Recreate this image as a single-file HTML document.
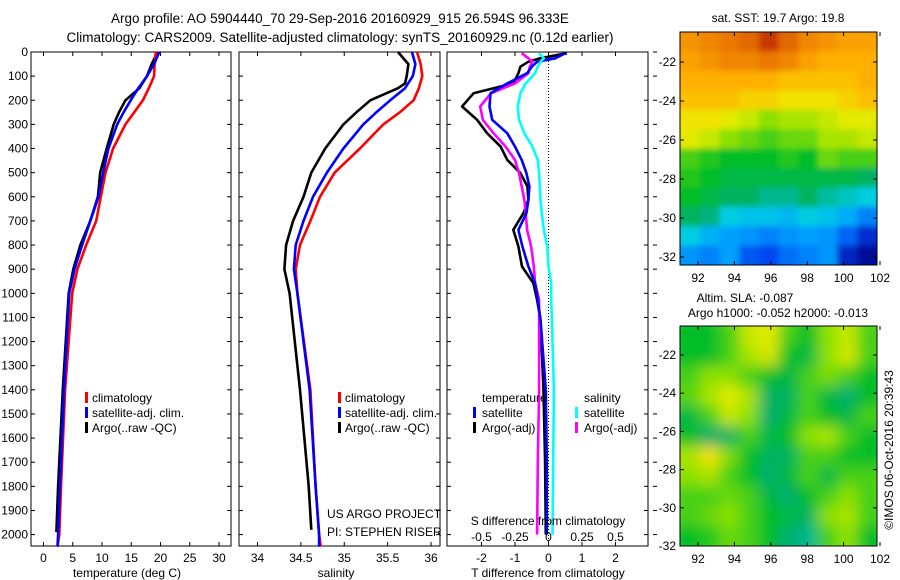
<!DOCTYPE html>
<html><head><meta charset="utf-8"><style>
html,body{margin:0;padding:0;background:#fff;width:900px;height:580px;overflow:hidden}
svg text{font-family:"Liberation Sans",sans-serif;font-size:12px;fill:#000}
</style></head><body>
<svg id="c" width="900" height="580" xmlns="http://www.w3.org/2000/svg">
<defs>
<filter id="bl" x="-5%" y="-5%" width="110%" height="110%"><feGaussianBlur stdDeviation="3"/></filter>
<filter id="bl2" x="-5%" y="-5%" width="110%" height="110%"><feGaussianBlur stdDeviation="7"/></filter>
<clipPath id="m1"><rect x="680" y="32" width="197" height="233"/></clipPath>
<clipPath id="m2"><rect x="680" y="326" width="197" height="220"/></clipPath>
</defs>
<text x="340" y="23" text-anchor="middle" style="font-size:13.5px">Argo profile: AO 5904440_70 29-Sep-2016 20160929_915 26.594S 96.333E</text>
<text x="340" y="42" text-anchor="middle" style="font-size:13.5px">Climatology: CARS2009. Satellite-adjusted climatology: synTS_20160929.nc (0.12d earlier)</text>
<g id="g"></g>
</svg>
<script>
// ---------- data ----------
const tDepth=[0,50,100,150,200,250,300,400,500,600,700,800,900,1000,1400,1800,2000,2050];
const tClim=[19.2,19.0,18.9,18.0,17.0,15.5,14.0,11.9,10.6,9.8,9.0,7.3,5.8,4.9,3.7,3.0,2.7,2.4];
const tSat=[19.8,18.9,17.7,16.2,14.9,13.7,12.6,11.1,10.2,9.4,8.0,6.6,5.3,4.4,3.5,2.8,2.5,2.4];
const argoDepth=[0,50,100,150,200,250,300,400,500,600,700,800,900,1000,1400,1800,1990];
const tArgo=[19.5,18.5,17.7,16.4,14.0,12.9,12.0,10.8,9.7,9.3,8.0,6.3,5.1,4.3,3.3,2.5,2.2];
const sDepth=[0,50,100,150,200,250,300,400,500,600,700,800,900,1000,1400,1800,2000,2050];
const sClim=[35.84,35.88,35.90,35.86,35.80,35.64,35.45,35.18,34.89,34.72,34.61,34.49,34.44,34.46,34.61,34.67,34.71,34.73];
const sSat=[35.78,35.82,35.79,35.70,35.53,35.37,35.22,34.99,34.80,34.64,34.53,34.44,34.42,34.46,34.60,34.67,34.71,34.71];
const sArgoDepth=[0,50,100,130,150,200,250,300,400,500,600,700,800,900,1000,1400,1800,1980];
const sArgo=[35.62,35.74,35.72,35.70,35.62,35.30,35.14,34.99,34.78,34.62,34.53,34.41,34.33,34.31,34.37,34.49,34.59,34.62];
const dDepth=[5,26,40,61,88,130,171,226,281,337,392,447,502,557,613,668,737,806,889,958,1027,1110,1400,1700,2000];
const dTArgo=[0.55,-0.25,-0.6,-0.84,-0.9,-1.05,-2.24,-2.58,-2.13,-1.83,-1.43,-1.23,-0.84,-0.63,-0.6,-0.75,-1.05,-0.9,-0.79,-0.45,-0.34,-0.24,-0.15,-0.1,-0.08];
const dTSat=[0.5,0.2,-0.34,-0.5,-0.64,-1.23,-1.73,-1.76,-1.68,-1.23,-1.0,-0.8,-0.66,-0.57,-0.6,-0.66,-0.9,-0.78,-0.6,-0.4,-0.32,-0.24,-0.08,-0.05,-0.05];
const dSSat=[-0.07,-0.035,-0.06,-0.08,-0.1,-0.17,-0.21,-0.23,-0.22,-0.18,-0.12,-0.08,-0.07,-0.065,-0.06,-0.05,-0.035,-0.01,0,0.02,0.02,0.025,0.04,0.035,0.03];
const dSArgo=[-0.2,-0.15,-0.12,-0.14,-0.15,-0.25,-0.43,-0.51,-0.49,-0.41,-0.32,-0.25,-0.22,-0.2,-0.18,-0.17,-0.16,-0.13,-0.11,-0.1,-0.07,-0.07,-0.07,-0.08,-0.085];
const depthTicks=[0,100,200,300,400,500,600,700,800,900,1000,1100,1200,1300,1400,1500,1600,1700,1800,1900,2000];
const tempTicks=[0,5,10,15,20,25,30];
const salTicks=[34,34.5,35,35.5,36];
const dTTicks=[-2,-1,0,1,2];
const dSTicks=[-0.5,-0.25,0,0.25,0.5];
const latTicks=[-22,-24,-26,-28,-30,-32];
const lonTicks=[92,94,96,98,100,102];
const sstGrid=[
[.76,.78,.80,.82,.88,.82,.78,.76,.74,.74],
[.74,.76,.78,.78,.80,.78,.74,.72,.72,.72],
[.72,.72,.72,.72,.72,.70,.70,.70,.70,.72],
[.70,.70,.70,.68,.68,.66,.66,.66,.68,.70],
[.66,.66,.64,.62,.58,.60,.60,.62,.64,.64],
[.64,.62,.58,.56,.54,.56,.56,.60,.60,.62],
[.54,.52,.50,.50,.50,.52,.50,.56,.54,.54],
[.52,.50,.48,.48,.48,.48,.48,.48,.48,.46],
[.50,.48,.46,.46,.43,.43,.46,.42,.40,.38],
[.46,.44,.38,.36,.36,.34,.38,.36,.32,.25],
[.38,.33,.30,.28,.25,.28,.30,.28,.20,.10],
[.28,.25,.30,.18,.15,.22,.25,.28,.08,.02]];
const slaGrid=[
[.50,.50,.54,.62,.64,.54,.50,.58,.62,.54],
[.50,.50,.54,.60,.63,.50,.48,.58,.63,.54],
[.54,.58,.58,.54,.50,.48,.54,.57,.54,.50],
[.55,.60,.64,.60,.46,.46,.54,.48,.45,.50],
[.48,.54,.62,.58,.45,.48,.54,.50,.48,.54],
[.50,.45,.46,.54,.48,.50,.58,.60,.54,.50],
[.60,.66,.57,.50,.46,.46,.54,.54,.50,.50],
[.58,.60,.54,.50,.45,.48,.54,.48,.54,.54],
[.54,.54,.56,.54,.48,.45,.50,.54,.58,.54],
[.54,.56,.58,.54,.50,.48,.46,.58,.60,.54],
[.50,.52,.56,.54,.50,.45,.43,.54,.58,.50]];
// ---------- helpers ----------
const NS="http://www.w3.org/2000/svg";const G=document.getElementById('g');
function el(t,a,p){const e=document.createElementNS(NS,t);for(const k in a)e.setAttribute(k,a[k]);(p||G).appendChild(e);return e;}
function txt(x,y,s,anchor,name){const e=el('text',{x:x,y:y,'text-anchor':anchor||'middle'});e.textContent=s;

return e;}
const Y=d=>52+d*0.2413;
const xT=v=>43.5+v*5.85;
const xS=v=>257.5+(v-34)*86.75;
const xDT=v=>548.5+v*33.5;
const xDS=v=>548.5+v*134;
function line(xs,ds,fx,col,name,w){const p=xs.map((v,i)=>fx(v).toFixed(1)+','+Y(ds[i]).toFixed(1)).join(' ');
const e=el('polyline',{points:p,fill:'none',stroke:col,'stroke-width':w||2.6,'stroke-linejoin':'round'});

}
function panel(x0,x1,name){const r=el('rect',{x:x0,y:52,width:x1-x0,height:494,fill:'none',stroke:'#000','stroke-width':1});


depthTicks.forEach(d=>{el('line',{x1:x0,x2:x0+4,y1:Y(d),y2:Y(d),stroke:'#000'});el('line',{x1:x1,x2:x1-4,y1:Y(d),y2:Y(d),stroke:'#000'});});}
function xticks(vals,fx,top){vals.forEach(v=>{const x=fx(v);el('line',{x1:x,x2:x,y1:546,y2:542,stroke:'#000'});if(top)el('line',{x1:x,x2:x,y1:52,y2:56,stroke:'#000'});});}
function legMark(x,y,col){el('rect',{x:x,y:y-10,width:3,height:11,fill:col});}
// ---------- panel 1 ----------
panel(31,231,'temperature-panel');xticks(tempTicks,xT,true);
depthTicks.forEach(d=>txt(28,Y(d)+4,String(d),'end','depth-tick-label'));
tempTicks.forEach(v=>txt(xT(v),562,String(v),'middle','temperature-tick-label'));
txt(127,577,'temperature (deg C)','middle','temperature-axis-title');
line(tArgo,argoDepth,xT,'#000','argo-temperature-line');
line(tClim,tDepth,xT,'#f00','climatology-temperature-line');
line(tSat,tDepth,xT,'#00f','satellite-temperature-line');
[['#f00','climatology'],['#00f','satellite-adj. clim.'],['#000','Argo(..raw -QC)']].forEach((l,i)=>{legMark(85,402+i*15,l[0]);txt(92,402+i*15,l[1],'start','legend-entry');});
// ---------- panel 2 ----------
panel(239,440,'salinity-panel');xticks(salTicks,xS,true);
salTicks.forEach(v=>txt(xS(v),562,String(v),'middle','salinity-tick-label'));
txt(336,577,'salinity','middle','salinity-axis-title');
line(sArgo,sArgoDepth,xS,'#000','argo-salinity-line');
line(sClim,sDepth,xS,'#f00','climatology-salinity-line');
line(sSat,sDepth,xS,'#00f','satellite-salinity-line');
[['#f00','climatology'],['#00f','satellite-adj. clim.'],['#000','Argo(..raw -QC)']].forEach((l,i)=>{legMark(338,402+i*15,l[0]);txt(345,402+i*15,l[1],'start','legend-entry');});
txt(327,518,'US ARGO PROJECT','start','project-label');
txt(327,536,'PI: STEPHEN RISER','start','pi-label');
// ---------- panel 3 ----------
panel(447,648,'difference-panel');xticks(dTTicks,xDT,true);
el('line',{x1:548.5,x2:548.5,y1:52,y2:546,stroke:'#000','stroke-dasharray':'1,2'});
depthTicks.forEach(d=>el('line',{x1:653,x2:657,y1:Y(d),y2:Y(d),stroke:'#000'}));
line(dTArgo,dDepth,xDT,'#000','argo-t-difference-line');
line(dSArgo,dDepth,xDS,'#f0f','argo-s-difference-line');
line(dTSat,dDepth,xDT,'#00f','satellite-t-difference-line');
line(dSSat,dDepth,xDS,'#0ff','satellite-s-difference-line');
dTTicks.forEach(v=>txt(xDT(v),562,String(v),'middle','t-difference-tick-label'));
dSTicks.forEach(v=>txt(xDS(v),541,String(v),'middle','s-difference-tick-label'));
txt(548,525,'S difference from climatology','middle','s-difference-axis-title');
txt(548,577,'T difference from climatology','middle','t-difference-axis-title');
txt(482,402,'temperature','start','legend-heading');txt(584,402,'salinity','start','legend-heading');
legMark(473,417,'#00f');txt(482,417,'satellite','start','legend-entry');
legMark(473,432,'#000');txt(482,432,'Argo(-adj)','start','legend-entry');
legMark(575,417,'#0ff');txt(584,417,'satellite','start','legend-entry');
legMark(575,432,'#f0f');txt(584,432,'Argo(-adj)','start','legend-entry');
// ---------- maps ----------
const cmStops=[[0,0,0,140],[0.15,0,70,240],[0.3,0,160,255],[0.38,0,205,225],[0.45,0,175,110],[0.5,0,190,40],[0.58,140,225,0],[0.65,240,235,0],[0.72,255,175,0],[0.8,235,120,0],[0.9,190,40,0],[1,130,0,0]];
function cmap(v){for(let i=1;i<cmStops.length;i++){const a=cmStops[i-1],b=cmStops[i];if(v<=b[0]){const t=Math.max(0,(v-a[0])/(b[0]-a[0]));return `rgb(${Math.round(a[1]+t*(b[1]-a[1]))},${Math.round(a[2]+t*(b[2]-a[2]))},${Math.round(a[3]+t*(b[3]-a[3]))})`;}}return 'rgb(130,0,0)';}
function map(grid,x0,y0,w,h,clip,filt,name,latAt){const g=el('g',{'clip-path':`url(#${clip})`});


const inner=el('g',{filter:`url(#${filt})`},g);const R=grid.length,C=grid[0].length;const cw=w/C,ch=h/R;
grid.forEach((row,i)=>row.forEach((v,j)=>el('rect',{x:x0+j*cw-(j==0?10:0),y:y0+i*ch-(i==0?10:0),width:cw+(j==0||j==C-1?11:1),height:ch+(i==0||i==R-1?11:1),fill:cmap(v)},inner)));
el('rect',{x:x0,y:y0,width:w,height:h,fill:'none',stroke:'#000'});
const lx=v=>x0+18+(v-92)*18.2;
lonTicks.forEach(v=>{el('line',{x1:lx(v),x2:lx(v),y1:y0+h,y2:y0+h-4,stroke:'#000'});el('line',{x1:lx(v),x2:lx(v),y1:y0,y2:y0+4,stroke:'#000'});txt(lx(v),y0+h+17,String(v),'middle','longitude-tick-label');});
latTicks.forEach(v=>{const y=latAt(v);el('line',{x1:x0,x2:x0+4,y1:y,y2:y,stroke:'#000'});el('line',{x1:x0+w,x2:x0+w-4,y1:y,y2:y,stroke:'#000'});txt(x0-4,y+4,String(v),'end','latitude-tick-label');});}
map(sstGrid,680,32,197,233,'m1','bl','sst-map',v=>62+(-22-v)*19.5);
map(slaGrid,680,326,197,220,'m2','bl2','sla-map',v=>355+(-22-v)*19.1);
txt(778,22,'sat. SST: 19.7 Argo: 19.8','middle','sst-map-title');
txt(745,302,'Altim. SLA: -0.087','middle','sla-map-title');
txt(778,317,'Argo h1000: -0.052 h2000: -0.013','middle','sla-map-subtitle');
const cr=txt(0,0,'©IMOS 06-Oct-2016 20:39:43','middle','timestamp-label');cr.setAttribute('transform','translate(893,450) rotate(-90)');
</script>
</body></html>
